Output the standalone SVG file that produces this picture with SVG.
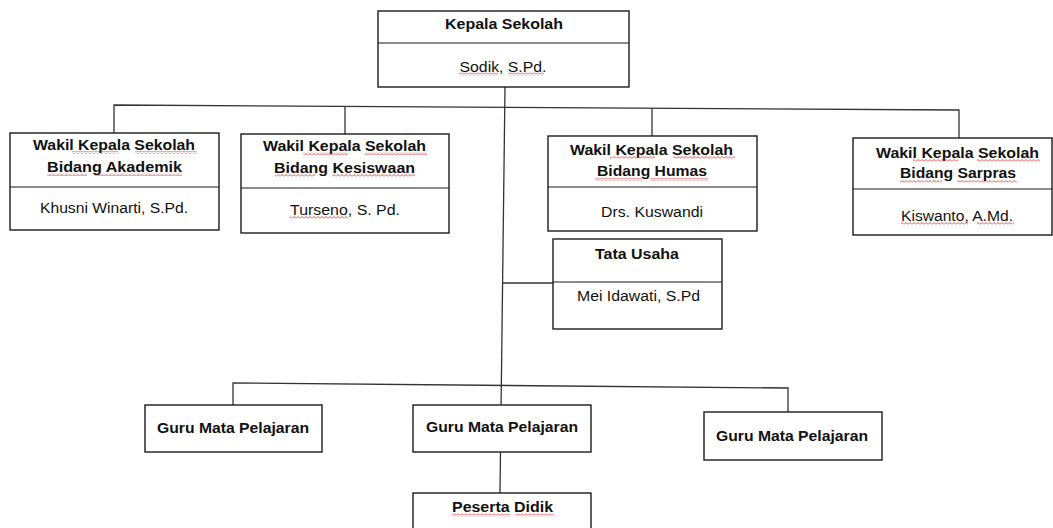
<svg xmlns="http://www.w3.org/2000/svg" width="1053" height="528" viewBox="0 0 1053 528">
<style>
.box{fill:#fff;stroke:#1a1a1a;stroke-width:1.4}
.div{stroke:#1a1a1a;stroke-width:1.2}
.con{fill:none;stroke:#333;stroke-width:1.3}
text{font-family:"Liberation Sans",Arial,sans-serif;font-size:14px;fill:#111;text-anchor:middle}
.b{font-weight:bold}
.sq{fill:url(#wavy)}
</style>
<defs>
<pattern id="wavy" width="4" height="3" patternUnits="userSpaceOnUse">
<path d="M0 2.5 L2 0.5 L4 2.5" fill="none" stroke="#e02020" stroke-width="0.8"/>
</pattern>
</defs>
<rect width="1053" height="528" fill="#fff"/>
<g id="connectors">
<path class="con" d="M505 87 L500 493"/>
<path class="con" d="M114 133 L114 105 L959 110 L959 138"/>
<path class="con" d="M345 106 L345 134"/>
<path class="con" d="M652 108 L652 136"/>
<path class="con" d="M502 283 L553 283"/>
<path class="con" d="M233 405 L233 383 L788 388 L788 412"/>
</g>
<g id="kepala">
<rect class="box" x="378" y="11" width="251" height="76"/>
<line class="div" x1="378" y1="43" x2="629" y2="43"/>
<text class="b" x="504" y="29" textLength="118" lengthAdjust="spacingAndGlyphs">Kepala Sekolah</text>
<text x="503" y="72" textLength="87" lengthAdjust="spacingAndGlyphs">Sodik, S.Pd.</text>
<rect class="sq" x="459" y="72.5" width="39" height="3"/>
<rect class="sq" x="508" y="72.5" width="36" height="3"/>
</g>
<g id="wakil-akademik">
<rect class="box" x="10" y="133" width="209" height="97"/>
<line class="div" x1="10" y1="187" x2="219" y2="187"/>
<text class="b" x="114" y="150" textLength="162" lengthAdjust="spacingAndGlyphs">Wakil Kepala Sekolah</text>
<text class="b" x="114.5" y="172" textLength="135" lengthAdjust="spacingAndGlyphs">Bidang Akademik</text>
<text x="114" y="213" textLength="148" lengthAdjust="spacingAndGlyphs">Khusni Winarti, S.Pd.</text>
<rect class="sq" x="72" y="151" width="46" height="3"/>
<rect class="sq" x="135" y="151" width="62" height="3"/>
<rect class="sq" x="47" y="173" width="40" height="3"/>
<rect class="sq" x="95" y="173" width="87" height="3"/>
</g>
<g id="wakil-kesiswaan">
<rect class="box" x="241" y="134" width="208" height="99"/>
<line class="div" x1="241" y1="188" x2="449" y2="188"/>
<text class="b" x="344.5" y="151" textLength="163" lengthAdjust="spacingAndGlyphs">Wakil Kepala Sekolah</text>
<text class="b" x="344.5" y="173" textLength="141" lengthAdjust="spacingAndGlyphs">Bidang Kesiswaan</text>
<text x="345" y="215" textLength="110" lengthAdjust="spacingAndGlyphs">Turseno, S. Pd.</text>
<rect class="sq" x="303" y="152" width="45" height="3"/>
<rect class="sq" x="365" y="152" width="62" height="3"/>
<rect class="sq" x="275" y="174" width="40" height="3"/>
<rect class="sq" x="332" y="174" width="83" height="3"/>
<rect class="sq" x="290" y="216" width="58" height="3"/>
</g>
<g id="wakil-humas">
<rect class="box" x="548" y="136" width="209" height="95"/>
<line class="div" x1="548" y1="187" x2="757" y2="187"/>
<text class="b" x="651.5" y="155" textLength="163" lengthAdjust="spacingAndGlyphs">Wakil Kepala Sekolah</text>
<text class="b" x="652" y="176" textLength="110" lengthAdjust="spacingAndGlyphs">Bidang Humas</text>
<text x="652" y="217" textLength="102" lengthAdjust="spacingAndGlyphs">Drs. Kuswandi</text>
<rect class="sq" x="610" y="156" width="45" height="3"/>
<rect class="sq" x="673" y="156" width="62" height="3"/>
<rect class="sq" x="595" y="178" width="47" height="3"/>
<rect class="sq" x="650" y="178" width="58" height="3"/>
</g>
<g id="wakil-sarpras">
<rect class="box" x="853" y="138" width="199" height="97"/>
<line class="div" x1="853" y1="189" x2="1052" y2="189"/>
<text class="b" x="957.5" y="158" textLength="163" lengthAdjust="spacingAndGlyphs">Wakil Kepala Sekolah</text>
<text class="b" x="958" y="178" textLength="116" lengthAdjust="spacingAndGlyphs">Bidang Sarpras</text>
<text x="957" y="221" textLength="112" lengthAdjust="spacingAndGlyphs">Kiswanto, A.Md.</text>
<rect class="sq" x="913" y="159" width="45" height="3"/>
<rect class="sq" x="977" y="159" width="63" height="3"/>
<rect class="sq" x="900" y="180" width="42" height="3"/>
<rect class="sq" x="957" y="180" width="60" height="3"/>
<rect class="sq" x="901" y="222" width="67" height="3"/>
<rect class="sq" x="977" y="222" width="37" height="3"/>
</g>
<g id="tata-usaha">
<rect class="box" x="553" y="239" width="169" height="90"/>
<line class="div" x1="553" y1="282" x2="722" y2="282"/>
<text class="b" x="637" y="259" textLength="84" lengthAdjust="spacingAndGlyphs">Tata Usaha</text>
<text x="638.5" y="301" textLength="123" lengthAdjust="spacingAndGlyphs">Mei Idawati, S.Pd</text>
</g>
<g id="guru-1">
<rect class="box" x="145" y="405" width="177" height="47"/>
<text class="b" x="233" y="433" textLength="152" lengthAdjust="spacingAndGlyphs">Guru Mata Pelajaran</text>
</g>
<g id="guru-2">
<rect class="box" x="413" y="405" width="178" height="47"/>
<text class="b" x="502" y="432" textLength="152" lengthAdjust="spacingAndGlyphs">Guru Mata Pelajaran</text>
</g>
<g id="guru-3">
<rect class="box" x="704" y="412" width="178" height="48"/>
<text class="b" x="792" y="441" textLength="152" lengthAdjust="spacingAndGlyphs">Guru Mata Pelajaran</text>
</g>
<g id="peserta-didik">
<rect class="box" x="413" y="493" width="178" height="45"/>
<text class="b" x="502.5" y="512" textLength="101" lengthAdjust="spacingAndGlyphs">Peserta Didik</text>
<rect class="sq" x="452" y="513.5" width="58" height="3"/>
<rect class="sq" x="515" y="513.5" width="39" height="3"/>
</g>
</svg>
